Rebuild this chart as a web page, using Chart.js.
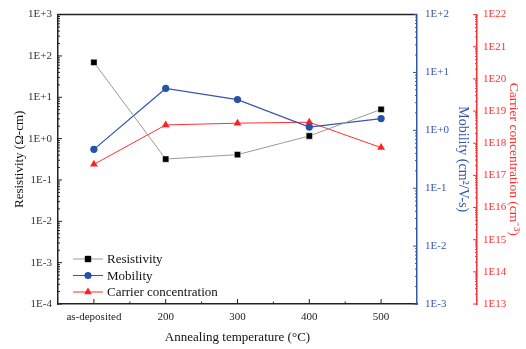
<!DOCTYPE html>
<html>
<head>
<meta charset="utf-8">
<script src="https://cdn.jsdelivr.net/npm/chart.js@4"></script>
<style>
  html, body { margin: 0; padding: 0; background: #fff; }
</style>
</head>
<body>
<canvas id="chart" width="526" height="349"></canvas>
<script>
// data
const categories = ['as-deposited', '200', '300', '400', '500'];
const resistivity = [70, 0.32, 0.41, 1.16, 5.1];
const mobility = [0.47, 5.3, 3.4, 1.14, 1.6];
const carrier = [2.2e17, 3.7e18, 4.2e18, 4.5e18, 7.3e17];

// tick labels (decades)
const resTicks = [1e-4, 1e-3, 1e-2, 1e-1, 1e0, 1e1, 1e2, 1e3];
const resTickLabels = ['1E-4', '1E-3', '1E-2', '1E-1', '1E+0', '1E+1', '1E+2', '1E+3'];
const mobTicks = [1e-3, 1e-2, 1e-1, 1e0, 1e1, 1e2];
const mobTickLabels = ['1E-3', '1E-2', '1E-1', '1E+0', '1E+1', '1E+2'];
const carTicks = [1e13, 1e14, 1e15, 1e16, 1e17, 1e18, 1e19, 1e20, 1e21, 1e22];
const carTickLabels = ['1E13', '1E14', '1E15', '1E16', '1E17', '1E18', '1E19', '1E20', '1E21', '1E22'];

const black = '#222222';
const grey = '#9a9a9a';
const blue = '#3457ab';
const red = '#ff3030';
const serif = '"Liberation Serif", "Times New Roman", serif';

function decadeTicks(list) {
  return function (scale) {
    scale.ticks = list.map(v => ({ value: v }));
  };
}
function labelFrom(list, labels) {
  return function (value) {
    const i = list.indexOf(value);
    return i >= 0 ? labels[i] : '';
  };
}

// ticks pointing into the plot + frame line on top
const axisTicks = {
  id: 'axisTicks',
  afterDraw(chart) {
    const ctx = chart.ctx;
    const a = chart.chartArea;
    ctx.save();
    // top frame
    ctx.strokeStyle = black;
    ctx.lineWidth = 1.5;
    ctx.beginPath();
    ctx.moveTo(a.left, a.top);
    ctx.lineTo(a.right, a.top);
    ctx.stroke();
    ctx.lineWidth = 1;

    // x ticks
    const xs = chart.scales.x;
    const step = xs.getPixelForValue(1) - xs.getPixelForValue(0);
    ctx.strokeStyle = black;
    ctx.beginPath();
    for (let i = 0; i < categories.length; i++) {
      const px = xs.getPixelForValue(i);
      ctx.moveTo(px, a.bottom);
      ctx.lineTo(px, a.bottom - 5);
      const mx = px + step / 2;
      if (mx < a.right - 1) {
        ctx.moveTo(mx, a.bottom);
        ctx.lineTo(mx, a.bottom - 2.5);
      }
    }
    ctx.stroke();

    // log axes
    function logTicks(scale, x, dir, color, major) {
      ctx.strokeStyle = color;
      ctx.beginPath();
      for (let k = 0; k < major.length; k++) {
        const py = scale.getPixelForValue(major[k]);
        ctx.moveTo(x, py);
        ctx.lineTo(x + dir * 4, py);
        if (k < major.length - 1) {
          for (let m = 2; m <= 9; m++) {
            const my = scale.getPixelForValue(major[k] * m);
            ctx.moveTo(x, my);
            ctx.lineTo(x + dir * 2, my);
          }
        }
      }
      ctx.stroke();
    }
    logTicks(chart.scales.y, chart.scales.y.right, 1, black, resTicks);
    logTicks(chart.scales.y1, chart.scales.y1.left, -1, blue, mobTicks);
    logTicks(chart.scales.y2, chart.scales.y2.left, -1, red, carTicks);
    ctx.restore();
  }
};

// legend with line + marker inside the plot
const innerLegend = {
  id: 'innerLegend',
  afterDraw(chart) {
    const ctx = chart.ctx;
    const a = chart.chartArea;
    ctx.save();
    ctx.font = '13px ' + serif;
    ctx.textBaseline = 'middle';
    chart.data.datasets.forEach((ds, i) => {
      const y = a.bottom - 45 + i * 16.5;
      const x0 = a.left + 15;
      ctx.strokeStyle = ds.borderColor;
      ctx.lineWidth = 1;
      ctx.beginPath();
      ctx.moveTo(x0, y);
      ctx.lineTo(x0 + 30, y);
      ctx.stroke();
      ctx.fillStyle = ds.pointBackgroundColor;
      ctx.strokeStyle = ds.pointBackgroundColor;
      Chart.helpers.drawPoint(ctx, {
        pointStyle: ds.pointStyle,
        radius: ds.pointRadius,
        borderWidth: 0
      }, x0 + 15, y);
      ctx.fillStyle = '#111';
      ctx.fillText(ds.label, x0 + 34, y + 1);
    });
    ctx.restore();
  }
};

const chChart = document.getElementById('chart');

new Chart(chChart, {
  type: 'line',
  data: {
    labels: categories,
    datasets: [
      {
        label: 'Resistivity',
        data: resistivity,
        yAxisID: 'y',
        borderColor: grey,
        borderWidth: 1,
        pointStyle: 'rect',
        pointRadius: 4.5,
        pointBackgroundColor: '#000',
        pointBorderColor: '#fff',
        pointBorderWidth: 0.5
      },
      {
        label: 'Mobility',
        data: mobility,
        yAxisID: 'y1',
        borderColor: blue,
        borderWidth: 1.2,
        pointStyle: 'circle',
        pointRadius: 3.6,
        pointBackgroundColor: '#2552aa',
        pointBorderColor: '#2552aa',
        pointBorderWidth: 0
      },
      {
        label: 'Carrier concentration',
        data: carrier,
        yAxisID: 'y2',
        borderColor: red,
        borderWidth: 1,
        pointStyle: 'triangle',
        pointRadius: 4.5,
        pointBackgroundColor: '#ff2020',
        pointBorderColor: '#ff2020',
        pointBorderWidth: 0
      }
    ]
  },
  options: {
    responsive: false,
    animation: false,
    devicePixelRatio: 1,
    layout: { padding: 0 },
    plugins: {
      legend: { display: false },
      tooltip: { enabled: false }
    },
    scales: {
      x: {
        type: 'category',
        offset: true,
        grid: { display: false, drawTicks: false },
        border: { display: true, color: black, width: 1.5 },
        ticks: { color: '#222', font: { family: serif, size: 11 }, padding: 7, maxRotation: 0, autoSkip: false },
        title: { display: true, text: 'Annealing temperature (°C)', color: '#111', font: { family: serif, size: 13 }, padding: { top: 5, bottom: 4 } },
        afterFit(scale) { scale.height = 45; }
      },
      y: {
        type: 'logarithmic',
        position: 'left',
        min: 1e-4,
        max: 1e3,
        afterBuildTicks: decadeTicks(resTicks),
        grid: { display: false, drawTicks: false },
        border: { display: true, color: black, width: 1.5 },
        ticks: { color: '#333', font: { family: serif, size: 11 }, padding: 6, autoSkip: false, callback: labelFrom(resTicks, resTickLabels) },
        title: { display: true, text: 'Resistivity (Ω-cm)', color: '#111', font: { family: serif, size: 13 }, padding: { top: 12, bottom: 4 } },
        afterFit(scale) { scale.width = 58; }
      },
      y1: {
        type: 'logarithmic',
        position: 'right',
        weight: 1,
        min: 1e-3,
        max: 1e2,
        afterBuildTicks: decadeTicks(mobTicks),
        grid: { display: false, drawTicks: false },
        border: { display: true, color: blue, width: 1.5 },
        ticks: { color: blue, font: { family: serif, size: 11 }, padding: 8, autoSkip: false, callback: labelFrom(mobTicks, mobTickLabels) },
        title: { display: true, text: 'Mobility (cm²/V-s)', color: blue, font: { family: serif, size: 14 }, padding: { top: 6, bottom: 4 } },
        afterFit(scale) { scale.width = 60; }
      },
      y2: {
        type: 'logarithmic',
        position: 'right',
        weight: 2,
        min: 1e13,
        max: 1e22,
        afterBuildTicks: decadeTicks(carTicks),
        grid: { display: false, drawTicks: false },
        border: { display: true, color: red, width: 1.5 },
        ticks: { color: red, font: { family: serif, size: 11 }, padding: 6, autoSkip: false, callback: labelFrom(carTicks, carTickLabels) },
        title: { display: true, text: 'Carrier concentration (cm⁻³)', color: red, font: { family: serif, size: 13.5 }, padding: { top: 4, bottom: 4 } },
        afterFit(scale) { scale.width = 49; }
      }
    }
  },
  plugins: [axisTicks, innerLegend]
});
</script>
</body>
</html>
